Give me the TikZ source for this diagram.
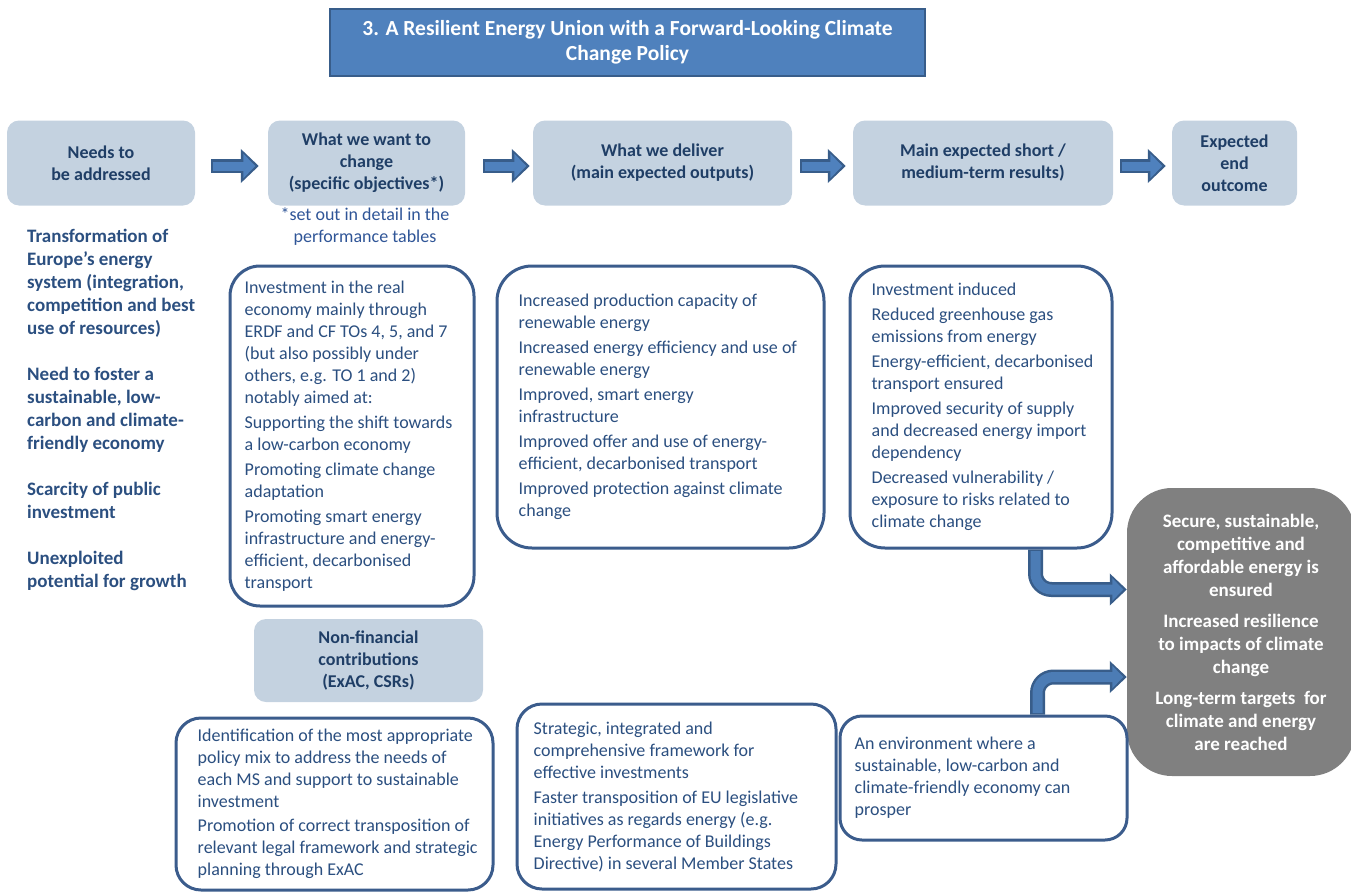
\documentclass[tikz,border=0pt]{standalone}
\usepackage{fontspec}
\setmainfont{Carlito}
\usetikzlibrary{positioning,arrows.meta}
\definecolor{ttlfill}{RGB}{79,129,189}
\definecolor{ttlborder}{RGB}{56,93,138}
\definecolor{hdrfill}{RGB}{196,210,224}
\definecolor{hdrtext}{RGB}{31,62,102}
\definecolor{bodyblue}{RGB}{43,79,128}
\definecolor{boxborder}{RGB}{59,92,140}
\definecolor{arrowdark}{RGB}{56,93,138}
\definecolor{arrowlight}{RGB}{79,129,189}
\definecolor{notetext}{RGB}{47,85,151}
\definecolor{endgray}{RGB}{128,128,128}
\tikzset{
  headline/.style={
    draw=ttlborder,
    fill=ttlfill,
    line width=2.5pt,
    minimum width=595pt,
    minimum height=67pt,
    align=center,
    text=white,
    font=\fontsize{21.5}{25}\selectfont\bfseries
  },
  hdr/.style={
    fill=hdrfill,
    rounded corners=12pt,
    minimum height=85pt,
    inner sep=0pt,
    align=center,
    text=hdrtext,
    font=\fontsize{18}{22}\selectfont\bfseries
  },
  outbox/.style={
    draw=boxborder,
    fill=white,
    line width=3pt,
    rounded corners=30pt,
    inner sep=0pt
  },
  bodytext/.style={
    align=left,
    inner sep=0pt,
    text=bodyblue,
    font=\fontsize{18}{22}\selectfont
  },
  needtext/.style={
    align=left,
    inner sep=0pt,
    text=bodyblue,
    font=\fontsize{19}{23}\selectfont\bfseries
  },
  endbox/.style={
    fill=endgray,
    rounded corners=45pt,
    minimum width=228pt,
    minimum height=288pt,
    inner sep=0pt,
    align=center,
    text=white,
    font=\fontsize{19}{23}\selectfont\bfseries
  },
  note/.style={
    align=center,
    text=notetext,
    font=\fontsize{18}{22}\selectfont
  },
  blockarrow/.style={
    draw=arrowdark, line width=14pt,
    -{Triangle[length=18pt,width=33pt]},
    postaction={draw=arrowlight, line width=9pt,
      -{Triangle[length=12pt,width=24pt]},
      shorten >=3.5pt, shorten <=1.5pt}
  },
  bentarrow/.style={
    draw=arrowdark, line width=15pt, rounded corners=16pt,
    -{Triangle[length=17pt,width=31pt]},
    postaction={draw=arrowlight!85!arrowdark, line width=10pt,
      -{Triangle[length=11pt,width=22pt]},
      shorten >=3.5pt, shorten <=1.5pt}
  }
}

\begin{document}
\begin{tikzpicture}[x=1pt, y=-1pt]
\useasboundingbox (0,0) rectangle (1351,891);

\node[headline] (ttl) at (627.5,42.5)
  {3. A Resilient Energy Union with a Forward-Looking Climate\\Change Policy};

% Column headers
\node[hdr, minimum width=188pt] (h1) at (101,163) {Needs to\\be addressed};
\node[hdr, minimum width=197pt] (h2) at (366.5,163)
  {What we want to\\change\\(specific objectives*)};
\node[hdr, minimum width=259pt] (h3) at (662.5,163)
  {What we deliver\\(main expected outputs)};
\node[hdr, minimum width=260pt] (h4) at (983,163)
  {Main expected short /\\medium-term results)};
\node[hdr, minimum width=125pt] (h5) at (1234.5,163) {Expected\\end\\outcome};

\foreach \a/\b/\s/\e in {h1/h2/16/9, h2/h3/18/3, h3/h4/8/7, h4/h5/7/6} {
  \draw[blockarrow] ([xshift=\s pt, yshift=-3pt]\a.east) --
    ([xshift=-\e pt, yshift=-3pt]\b.west);
}

\node[note] (setout) at (365,227) {*set out in detail in the\\performance tables};

% Needs
\node[needtext] (needs) at (27,410) [anchor=west]
  {Transformation of\\Europe's energy\\system (integration,\\competition and best\\use of resources)\\[23pt]
   Need to foster a\\sustainable, low-\\carbon and climate-\\friendly economy\\[23pt]
   Scarcity of public\\investment\\[23pt]
   Unexploited\\potential for growth};

% Objectives, outputs, results
\node[outbox, minimum width=244pt, minimum height=340pt] (obj) at (352,436) {};
\node[bodytext, right=16pt of obj.west] (objtxt)
  {Investment in the real\\economy mainly through\\ERDF and CF TOs 4, 5, and 7\\(but also possibly under\\others, e.g. TO 1 and 2)\\notably aimed at:\\[3pt]
   Supporting the shift towards\\a low-carbon economy\\[3pt]
   Promoting climate change\\adaptation\\[3pt]
   Promoting smart energy\\infrastructure and energy-\\efficient, decarbonised\\transport};

\node[outbox, rounded corners=35pt, minimum width=327pt, minimum height=282pt] (outp) at (660.5,407) {};
\node[bodytext, right=23pt of outp.west] (outptxt)
  {Increased production capacity of\\renewable energy\\[3pt]
   Increased energy efficiency and use of\\renewable energy\\[3pt]
   Improved, smart energy\\infrastructure\\[3pt]
   Improved offer and use of energy-\\efficient, decarbonised transport\\[3pt]
   Improved protection against climate\\change};

\node[outbox, rounded corners=35pt, minimum width=262pt, minimum height=282pt] (res) at (981,407) {};
\node[bodytext, right=23pt of res.west] (restxt)
  {Investment induced\\[3pt]
   Reduced greenhouse gas\\emissions from energy\\[3pt]
   Energy-efficient, decarbonised\\transport ensured\\[3pt]
   Improved security of supply\\and decreased energy import\\dependency\\[3pt]
   Decreased vulnerability /\\exposure to risks related to\\climate change};

% End outcome
\node[endbox] (final) at (1241,632)
  {Secure, sustainable,\\competitive and\\affordable energy is\\ensured\\[8pt]
   Increased resilience\\to impacts of climate\\change\\[8pt]
   Long-term targets\ \ for\\climate and energy\\are reached};

% Non-financial contributions
\node[hdr, minimum width=229pt, minimum height=83pt] (nfc) at (368.5,660.5)
  {Non-financial\\contributions\\(ExAC, CSRs)};

\node[outbox, rounded corners=25pt, minimum width=317pt, minimum height=172pt] (nfa) at (334.5,804) {};
\node[bodytext, right=23pt of nfa.west] (nfatxt)
  {Identification of the most appropriate\\policy mix to address the needs of\\each MS and support to sustainable\\investment\\[2pt]
   Promotion of correct transposition of\\relevant legal framework and strategic\\planning through ExAC};

\node[outbox, rounded corners=25pt, minimum width=319pt, minimum height=185pt] (nfb) at (676.5,796.5) {};
\node[bodytext, right=18pt of nfb.west] (nfbtxt)
  {Strategic, integrated and\\comprehensive framework for\\effective investments\\[3pt]
   Faster transposition of EU legislative\\initiatives as regards energy (e.g.\\Energy Performance of Buildings\\Directive) in several Member States};

\node[outbox, rounded corners=22pt, minimum width=287pt, minimum height=124pt] (env) at (983.5,778) {};
\node[bodytext, right=16pt of env.west] (envtxt)
  {An environment where a\\sustainable, low-carbon and\\climate-friendly economy can\\prosper};

% Into the end outcome
\draw[bentarrow] ([xshift=54.5pt]res.south) |- ([yshift=42.5pt]final.west);
\draw[bentarrow] ([xshift=54pt]env.north) |- ([yshift=-45pt]final.west);

\end{tikzpicture}
\end{document}
